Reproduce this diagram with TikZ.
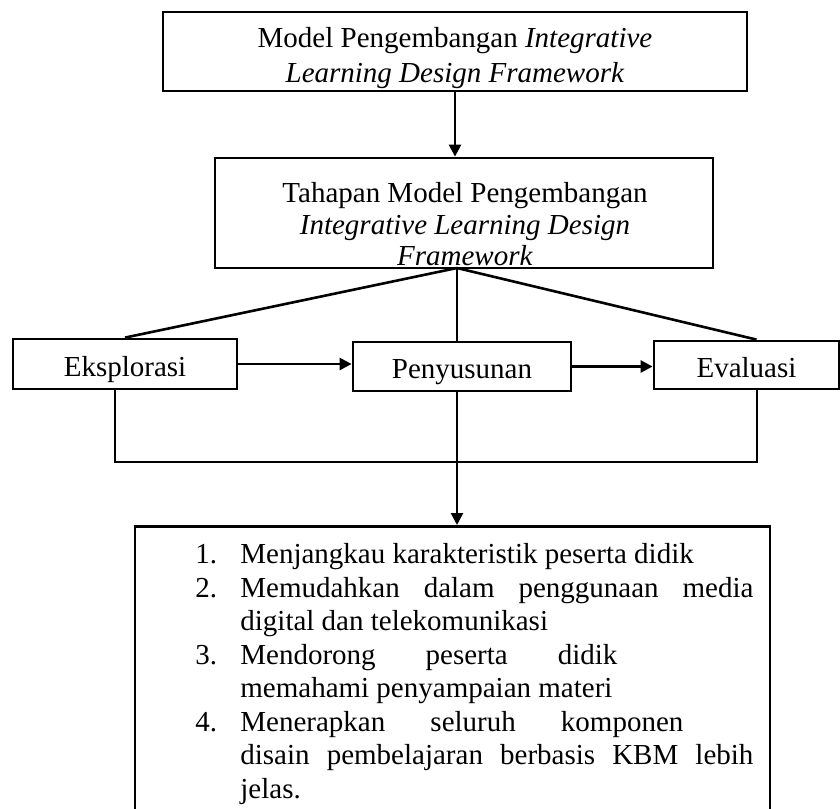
\documentclass[tikz,border=0pt]{standalone}
\usepackage{fontspec}
\setmainfont{Liberation Serif}
\usetikzlibrary{arrows.meta}

\begin{document}
\begin{tikzpicture}[
    x=0.5pt, y=-0.5pt,
    kotak/.style={draw, line width=1.4pt, inner sep=0pt},
    teks/.style={inner sep=0pt, align=center, font=\fontsize{14.5pt}{17.5pt}\selectfont},
    tahapan/.style={kotak, teks, text height=12pt, text depth=0pt},
    garis/.style={line width=1.3pt},
    panah/.style={line width=1.3pt, -{Triangle[length=6pt, width=6pt]}},
]
\useasboundingbox (0,0) rectangle (840,808);

% ---- 顶部方框 ----
\node[kotak, minimum width=292pt, minimum height=39.5pt] (model) at (455,51.5) {};
\node[teks, anchor=north] (modeltxt) at (455,27)
    {Model Pengembangan \textit{Integrative}\\\textit{Learning Design Framework}};

% ---- 第二个方框 ----
\node[kotak, minimum width=249pt, minimum height=55pt] (tahap) at (464,213) {};
\node[teks, anchor=north, font=\fontsize{14.5pt}{15.75pt}\selectfont] (tahaptxt) at (465,182)
    {Tahapan Model Pengembangan\\\textit{Integrative Learning Design}\\\textit{Framework}};

% ---- 三个阶段 ----
\node[tahapan, minimum width=112pt, minimum height=25pt] (eks) at (125,364) {Eksplorasi};
\node[tahapan, minimum width=109pt, minimum height=24.5pt] (pen) at (462,366.5) {Penyusunan};
\node[tahapan, minimum width=92.5pt, minimum height=24pt] (eva) at (746.5,365) {Evaluasi};

% ---- 底部方框 ----
\node[kotak, minimum width=317.5pt, minimum height=155pt, anchor=north] (hasil) at (452.5,525) {};
\node[teks, align=left, anchor=north west, font=\fontsize{14.5pt}{16.75pt}\selectfont] (daftar) at (195,543) {%
    \makebox[22.5pt][l]{1.}Menjangkau karakteristik peserta didik\\
    \makebox[22.5pt][l]{2.}\makebox[256.5pt][s]{Memudahkan dalam penggunaan media}\\
    \hspace*{22.5pt}digital dan telekomunikasi\\
    \makebox[22.5pt][l]{3.}\makebox[188.5pt][s]{Mendorong peserta didik}\\
    \hspace*{22.5pt}memahami penyampaian materi\\
    \makebox[22.5pt][l]{4.}\makebox[221.5pt][s]{Menerapkan seluruh komponen}\\
    \hspace*{22.5pt}\makebox[256.5pt][s]{disain pembelajaran berbasis KBM lebih}\\
    \hspace*{22.5pt}jelas.};

% ---- 连线 ----
\coordinate (cabang) at (457,268);
\draw[panah] (model.south) -- (model.south |- tahap.north);
\draw[garis] (cabang) -- (eks.north);
\draw[garis] (cabang) -- ([xshift=5pt]eva.north);
\draw[garis] (cabang) -- (cabang |- pen.north);
\draw[panah] (eks.east) -- (eks.east -| pen.west);
\draw[panah] (pen.east) -- (pen.east -| eva.west);

% ---- 底部回路 ----
\coordinate (kiri) at (115,462);
\coordinate (kanan) at (757,462);
\draw[garis] (kiri |- eks.south) -- (kiri) -- (kanan) -- (kanan |- eva.south);
\draw[panah] (cabang |- pen.south) -- (cabang |- hasil.north);
\end{tikzpicture}
\end{document}
